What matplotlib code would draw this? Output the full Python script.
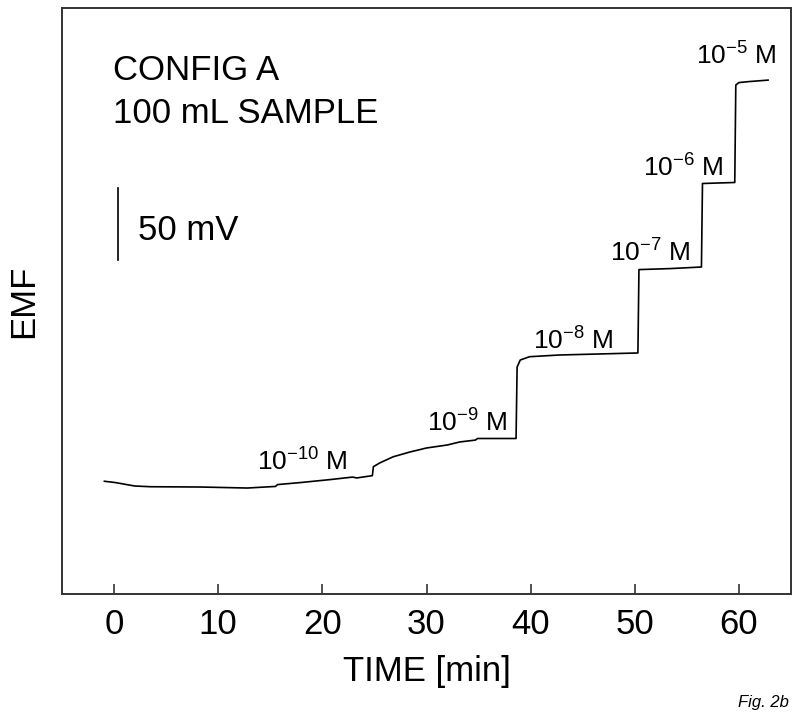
import matplotlib
matplotlib.use("Agg")
import matplotlib.pyplot as plt

plt.rcParams["font.family"] = ["Liberation Sans", "DejaVu Sans"]
plt.rcParams["mathtext.fontset"] = "custom"
plt.rcParams["mathtext.rm"] = "Liberation Sans"
plt.rcParams["mathtext.it"] = "Liberation Sans:italic"
plt.rcParams["mathtext.default"] = "regular"

# trace: time [min], EMF [mV, arbitrary zero]
time_min = [-0.93, 0.12, 1.2, 2.0, 3.5, 8.3, 12.8, 14.5, 15.5, 15.7, 17.9, 20.8,
            22.9, 23.3, 24.8, 24.9, 25.5, 26.8, 28.4, 30.0, 32.0, 33.2, 34.7,
            34.9, 38.6, 38.7, 39.0, 39.9, 42.8, 46.6, 50.3, 50.4, 53.4, 56.4,
            56.5, 59.6, 59.7, 60.0, 61.0, 62.8]
emf_mv = [78.3, 77.4, 76.0, 75.0, 74.5, 74.3, 73.6, 74.3, 74.7, 76.0, 77.4, 79.5,
          81.2, 80.6, 82.2, 88.4, 91.0, 95.3, 98.6, 101.4, 103.5, 105.6, 106.9,
          108.0, 108.0, 157.6, 162.5, 164.8, 166.0, 166.7, 167.4, 225.3, 226.0,
          227.1, 285.1, 285.8, 353.5, 355.2, 355.9, 356.9]

# concentration labels (exponent, time, emf of label baseline)
conc_exp = ["-10", "-9", "-8", "-7", "-6", "-5"]
label_t = [13.74, 30.05, 40.2, 47.6, 50.8, 55.9]
label_v = [85.4, 112.5, 170.0, 230.8, 289.8, 367.4]

xticks = [0, 10, 20, 30, 40, 50, 60]

fig = plt.figure(figsize=(8, 7.18), dpi=100)
ax = fig.add_axes([0.0775, 0.1727, 0.91125, 0.8162])

ax.plot(time_min, emf_mv, color="black", lw=1.2)

for e, t, v in zip(conc_exp, label_t, label_v):
    ax.text(t, v, r"$10^{%s}$ M" % e, fontsize=19, ha="left", va="baseline")

# 50 mV scale bar
ax.plot([0.41, 0.41], [232, 282], color="black", lw=1.2)
ax.text(2.33, 245.8, "50 mV", fontsize=25, ha="left", va="baseline")

ax.text(0.07, 0.877, "CONFIG A", fontsize=25, transform=ax.transAxes, va="baseline")
ax.text(0.07, 0.804, "100 mL SAMPLE", fontsize=25, transform=ax.transAxes, va="baseline")

ax.set_xlim(-5, 65)
ax.set_ylim(0, 407)
ax.set_xticks(xticks)
ax.set_yticks([])
ax.tick_params(axis="x", direction="in", length=7, width=1.2, color="#333333",
               labelsize=25, pad=10)
for s in ax.spines.values():
    s.set_color("#333333")
    s.set_linewidth(1.4)

ax.set_xlabel("TIME [min]", fontsize=25, labelpad=10)
ax.set_ylabel("EMF", fontsize=25, labelpad=16)

fig.text(0.986, 0.0153, "Fig. 2b", fontsize=12, style="italic", ha="right", va="baseline")

fig.savefig("out.png", dpi=100)
